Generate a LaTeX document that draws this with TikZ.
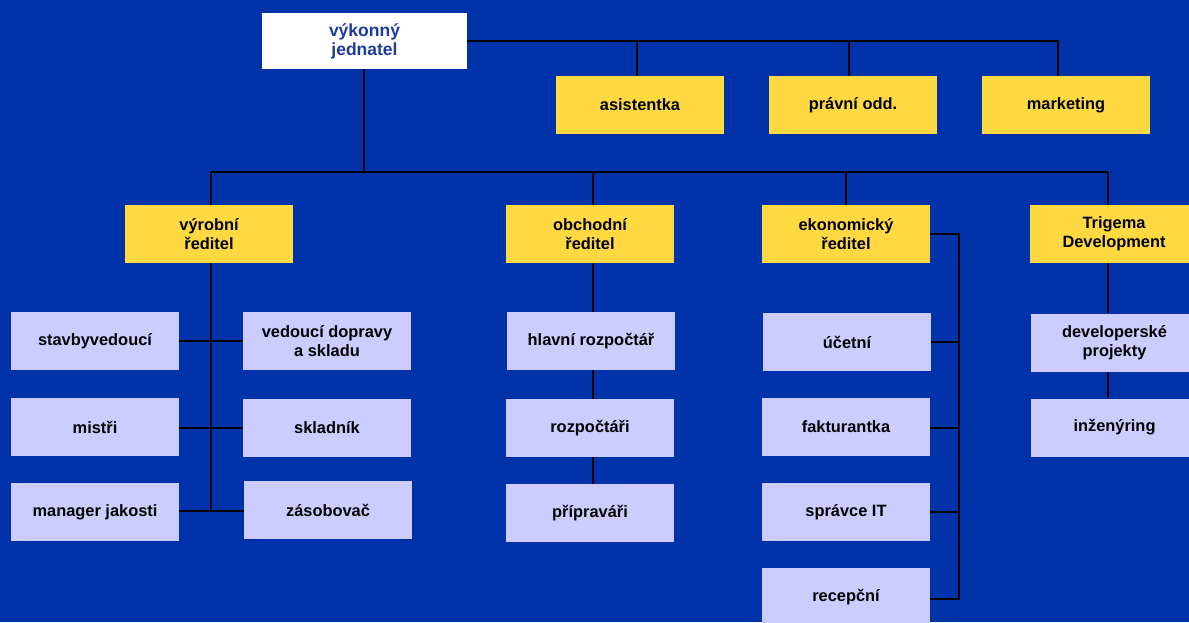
\documentclass[tikz,border=0pt]{standalone}
\usepackage{fontspec}
\setmainfont{Liberation Sans}
\definecolor{bg}{HTML}{0033AA}
\definecolor{yel}{HTML}{FFD941}
\definecolor{lav}{HTML}{CCCCFF}
\definecolor{topblue}{HTML}{1E3C9C}
\tikzset{
  box/.style={rectangle, inner sep=0pt, minimum width=168pt, minimum height=58pt, align=center,
    font=\bfseries\fontsize{16.4}{19}\selectfont, text=black},
  ybox/.style={box, fill=yel},
  lbox/.style={box, fill=lav},
  topbox/.style={box, fill=white, minimum width=205pt, minimum height=56pt, text=topblue,
    font=\bfseries\fontsize{17.5}{19}\selectfont},
  conn/.style={draw=black, line width=1.6pt},
}
\begin{document}
\begin{tikzpicture}[x=1pt,y=-1pt]
\fill[bg] (0,0) rectangle (1189,622);
\useasboundingbox (0,0) rectangle (1189,622);

% top
\node[topbox] (top) at (364.5,41) {výkonný\\jednatel};
\node[ybox] (as) at (640,105) {asistentka};
\node[ybox] (pr) at (853,105) {právní odd.};
\node[ybox] (mk) at (1066,105) {marketing};

% directors
\node[ybox] (vyr) at (209,234) {výrobní\\ředitel};
\node[ybox] (obc) at (590,234) {obchodní\\ředitel};
\node[ybox] (eko) at (846,234) {ekonomický\\ředitel};
\node[ybox] (tri) at (1114,234) {Trigema\\Development};

% production
\node[lbox] (stv) at (95,341) {stavbyvedoucí};
\node[lbox] (ved) at (327,341) {vedoucí dopravy\\a skladu};
\node[lbox] (mis) at (95,427) {mistři};
\node[lbox] (skl) at (327,428) {skladník};
\node[lbox] (man) at (95,512) {manager jakosti};
\node[lbox] (zas) at (328,510) {zásobovač};

% commercial
\node[lbox] (hla) at (591,341) {hlavní rozpočtář};
\node[lbox] (roz) at (590,428) {rozpočtáři};
\node[lbox] (pri) at (590,513) {přípraváři};

% economic
\node[lbox] (uce) at (847,342) {účetní};
\node[lbox] (fak) at (846,427) {fakturantka};
\node[lbox] (spr) at (846,512) {správce IT};
\node[lbox] (rec) at (846,597) {recepční};

% trigema
\node[lbox] (dev) at (1114.5,342.5) {developerské\\projekty};
\node[lbox] (inz) at (1114.5,427.5) {inženýring};

% connectors: top staff
\draw[conn] (top.east) -- (top.east -| 1058,0) -- (mk.north -| 1058,0);
\draw[conn] (top.east -| 637,0) -- (as.north -| 637,0);
\draw[conn] (top.east -| 849,0) -- (pr.north -| 849,0);

% connectors: top to directors
\coordinate (bus) at (364,172);
\draw[conn] (top.south -| bus) -- (bus);
\draw[conn] (bus -| 211,0) -- (bus -| 1108,0);
\draw[conn] (bus -| 211,0) -- (vyr.north -| 211,0);
\draw[conn] (bus -| 593,0) -- (obc.north -| 593,0);
\draw[conn] (bus -| eko.north) -- (eko.north);
\draw[conn] (bus -| 1108,0) -- (tri.north -| 1108,0);

% production
\draw[conn] (vyr.south -| 211,0) -- (211,511);
\draw[conn] (stv.east) -- (ved.west);
\draw[conn] (mis.east |- 0,428) -- (skl.west);
\draw[conn] (man.east |- 0,511) -- (zas.west |- 0,511);

% commercial
\draw[conn] (obc.south -| 593,0) -- (hla.north -| 593,0);
\draw[conn] (hla.south -| 593,0) -- (roz.north -| 593,0);
\draw[conn] (roz.south -| 593,0) -- (pri.north -| 593,0);

% economic
\draw[conn] (eko.east) -- (eko.east -| 959,0) -- (959,599) -- (rec.east |- 0,599);
\draw[conn] (uce.east) -- (uce.east -| 959,0);
\draw[conn] (fak.east |- 0,428) -- (959,428);
\draw[conn] (spr.east |- 0,512) -- (959,512);

% trigema
\draw[conn] (tri.south -| 1108,0) -- (dev.north -| 1108,0);
\draw[conn] (dev.south -| 1108,0) -- (inz.north -| 1108,0);
\end{tikzpicture}
\end{document}
